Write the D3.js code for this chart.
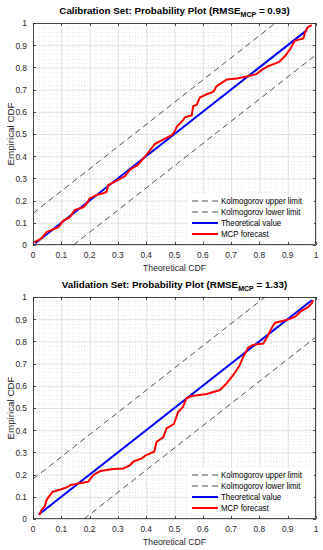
<!DOCTYPE html>
<html>
<head>
<meta charset="utf-8">
<script src="https://cdn.jsdelivr.net/npm/d3@7"></script>
<style>
  html, body { margin: 0; padding: 0; background: #fff; }
  svg { display: block; font-family: "Liberation Sans", Arial, Helvetica, sans-serif; }
</style>
</head>
<body>
<svg id="chart" width="323" height="550"></svg>
<script>
// ticks for both axes
var tickValues = [0, 0.1, 0.2, 0.3, 0.4, 0.5, 0.6, 0.7, 0.8, 0.9, 1];
var tickLabels = ["0", "0.1", "0.2", "0.3", "0.4", "0.5", "0.6", "0.7", "0.8", "0.9", "1"];
var legendLabels = ["Kolmogorov upper limit", "Kolmogorov lower limit", "Theoretical value", "MCP forecast"];

// calibration set
var calTitle = ["Calibration Set: Probability Plot (RMSE", "MCP", " = 0.93)"];
var calKsOffset = 0.143;
var calTheory = [0.008, 0.968];
var calX = [0.004, 0.03, 0.048, 0.066, 0.09, 0.107, 0.13, 0.148, 0.165, 0.178, 0.19, 0.2, 0.225, 0.248, 0.26,
            0.266, 0.296, 0.325, 0.34, 0.355, 0.37, 0.39, 0.41, 0.43, 0.46, 0.49, 0.5, 0.508, 0.525, 0.537,
            0.549, 0.561, 0.566, 0.578, 0.59, 0.614, 0.637, 0.649, 0.684, 0.72, 0.76, 0.79, 0.81, 0.83,
            0.85, 0.87, 0.89, 0.91, 0.925, 0.94, 0.955, 0.962, 0.97, 0.985];
var calY = [0.012, 0.03, 0.058, 0.068, 0.08, 0.11, 0.125, 0.158, 0.165, 0.17, 0.188, 0.21, 0.225, 0.233, 0.24,
            0.27, 0.29, 0.31, 0.335, 0.35, 0.36, 0.39, 0.42, 0.455, 0.475, 0.495, 0.51, 0.533, 0.555, 0.575,
            0.58, 0.584, 0.626, 0.63, 0.665, 0.679, 0.69, 0.716, 0.745, 0.75, 0.76, 0.77, 0.79, 0.805,
            0.815, 0.825, 0.85, 0.885, 0.92, 0.925, 0.93, 0.96, 0.98, 0.99];

// validation set
var valTitle = ["Validation Set: Probability Plot (RMSE", "MCP", " = 1.33)"];
var valKsOffset = 0.18;
var valTheory = [0.02, 0.985];
var valX = [0.022, 0.03, 0.042, 0.048, 0.058, 0.07, 0.1, 0.12, 0.133, 0.16, 0.195, 0.213, 0.237, 0.284, 0.319,
            0.343, 0.354, 0.384, 0.4, 0.428, 0.437, 0.46, 0.472, 0.498, 0.513, 0.529, 0.537, 0.543, 0.561,
            0.614, 0.661, 0.684, 0.708, 0.731, 0.743, 0.761, 0.778, 0.814, 0.831, 0.843, 0.855, 0.896,
            0.926, 0.949, 0.973, 0.985, 0.99];
var valY = [0.018, 0.04, 0.058, 0.086, 0.104, 0.123, 0.134, 0.143, 0.153, 0.16, 0.168, 0.198, 0.216, 0.225, 0.228,
            0.242, 0.258, 0.273, 0.288, 0.303, 0.348, 0.368, 0.408, 0.428, 0.483, 0.503, 0.528, 0.544, 0.554,
            0.563, 0.581, 0.611, 0.649, 0.694, 0.731, 0.773, 0.784, 0.791, 0.829, 0.859, 0.884, 0.896,
            0.911, 0.938, 0.956, 0.972, 0.986];

var svg = d3.select("#chart");
var axColor = "#262626";

// text narrowed a little horizontally around its anchor point
function label(parent, x, y, str, size, sx, anchor, rot) {
    var g = parent.append("g")
        .attr("transform", "translate(" + x + "," + y + ")" + (rot ? " rotate(-90) scale(1," + sx + ")" : " scale(" + sx + ",1)"));
    return g.append("text").attr("text-anchor", anchor).attr("font-size", size + "px")
        .attr("fill", axColor).text(str);
}

function drawPanel(top, bottom, titleParts, ksOffset, theory, xs, ys) {
    var left = 33, right = 316;
    var x = d3.scaleLinear().domain([0, 1]).range([left, right]);
    var y = d3.scaleLinear().domain([0, 1]).range([bottom, top]);
    var g = svg.append("g");

    // minor grid (dotted)
    var minor = d3.range(0, 1.0001, 0.02).filter(function (v) { return Math.round(v * 50) % 5 != 0; });
    g.selectAll("line.mx").data(minor).enter().append("line")
        .attr("x1", function (d) { return Math.round(x(d)) + 0.5; })
        .attr("x2", function (d) { return Math.round(x(d)) + 0.5; })
        .attr("y1", top).attr("y2", bottom)
        .attr("stroke", "#e4e4e4").attr("stroke-width", 0.8).attr("stroke-dasharray", "1,2");
    g.selectAll("line.my").data(minor).enter().append("line")
        .attr("y1", function (d) { return Math.round(y(d)) + 0.5; })
        .attr("y2", function (d) { return Math.round(y(d)) + 0.5; })
        .attr("x1", left).attr("x2", right)
        .attr("stroke", "#e4e4e4").attr("stroke-width", 0.8).attr("stroke-dasharray", "1,2");

    // major grid
    g.append("g")
        .attr("transform", "translate(0," + bottom + ")")
        .call(d3.axisBottom(x).tickValues(tickValues).tickSize(-(bottom - top)).tickFormat(""))
        .call(function (s) { s.select(".domain").remove(); s.selectAll("line").attr("stroke", "#e0e0e0"); });
    g.append("g")
        .attr("transform", "translate(" + left + ",0)")
        .call(d3.axisLeft(y).tickValues(tickValues).tickSize(-(right - left)).tickFormat(""))
        .call(function (s) { s.select(".domain").remove(); s.selectAll("line").attr("stroke", "#e0e0e0"); });

    // Kolmogorov limits
    var line = d3.line().x(function (d) { return x(d[0]); }).y(function (d) { return y(d[1]); });
    var upper = [[0, ksOffset], [1 - ksOffset, 1]];
    var lower = [[ksOffset, 0], [1, 1 - ksOffset]];
    [upper, lower].forEach(function (pts) {
        g.append("path").attr("d", line(pts))
            .attr("fill", "none").attr("stroke", "#404040").attr("stroke-width", 0.9)
            .attr("stroke-dasharray", "6,4");
    });

    // theoretical value
    g.append("path").attr("d", line([[theory[0], theory[0]], [theory[1], theory[1]]]))
        .attr("fill", "none").attr("stroke", "#0000ff").attr("stroke-width", 2);

    // MCP forecast
    var pts = xs.map(function (v, i) { return [v, ys[i]]; });
    g.append("path").attr("d", line(pts))
        .attr("fill", "none").attr("stroke", "#ff0000").attr("stroke-width", 2)
        .attr("stroke-linejoin", "round");

    // box + ticks inside on all sides
    var ax = g.append("g");
    ax.append("rect").attr("x", left + 0.5).attr("y", top + 0.5)
        .attr("width", right - left - 1).attr("height", bottom - top - 1)
        .attr("fill", "none").attr("stroke", axColor).attr("stroke-width", 0.8);
    tickValues.forEach(function (v, i) {
        var px = Math.round(x(v)) + 0.5, py = Math.round(y(v)) + 0.5;
        ax.append("line").attr("x1", px).attr("x2", px).attr("y1", bottom).attr("y2", bottom - 3)
            .attr("stroke", axColor).attr("stroke-width", 0.8);
        ax.append("line").attr("x1", px).attr("x2", px).attr("y1", top).attr("y2", top + 3)
            .attr("stroke", axColor).attr("stroke-width", 0.8);
        ax.append("line").attr("y1", py).attr("y2", py).attr("x1", left).attr("x2", left + 3)
            .attr("stroke", axColor).attr("stroke-width", 0.8);
        ax.append("line").attr("y1", py).attr("y2", py).attr("x1", right).attr("x2", right - 3)
            .attr("stroke", axColor).attr("stroke-width", 0.8);
        label(ax, x(v), bottom + 13, tickLabels[i], 9.5, 0.88, "middle");
        label(ax, left - 6, y(v) + 3.3, tickLabels[i], 9.5, 0.88, "end");
    });

    // axis labels
    label(g, (left + right) / 2, bottom + 26, "Theoretical CDF", 9.6, 0.9, "middle");
    label(g, 14, (top + bottom) / 2, "Empirical CDF", 9.8, 0.9, "middle", true);

    // title with subscript
    var t = g.append("text").attr("x", (left + right) / 2).attr("y", top - 9)
        .attr("text-anchor", "middle").attr("font-size", "9.8px")
        .attr("font-weight", "bold").attr("fill", "#000");
    t.append("tspan").text(titleParts[0]);
    t.append("tspan").attr("font-size", "7px").attr("dy", 3).text(titleParts[1]);
    t.append("tspan").attr("dy", -3).text(titleParts[2]);

    // legend
    var lg = g.append("g").attr("transform", "translate(188," + (bottom - 51) + ")");
    lg.append("rect").attr("width", 126).attr("height", 47).attr("fill", "#fff");
    var styles = [
        {stroke: "#404040", w: 0.9, dash: "6,4"},
        {stroke: "#404040", w: 0.9, dash: "6,4"},
        {stroke: "#0000ff", w: 2, dash: null},
        {stroke: "#ff0000", w: 2, dash: null}
    ];
    legendLabels.forEach(function (lab, i) {
        var ly = 7 + i * 11;
        lg.append("line").attr("x1", 4).attr("x2", 30).attr("y1", ly).attr("y2", ly)
            .attr("stroke", styles[i].stroke).attr("stroke-width", styles[i].w)
            .attr("stroke-dasharray", styles[i].dash);
        label(lg, 33, ly + 3.2, lab, 8.8, 0.9, "start").attr("fill", "#000");
    });
}

drawPanel(23, 245, calTitle, calKsOffset, calTheory, calX, calY);
drawPanel(297, 519, valTitle, valKsOffset, valTheory, valX, valY);
</script>
</body>
</html>
